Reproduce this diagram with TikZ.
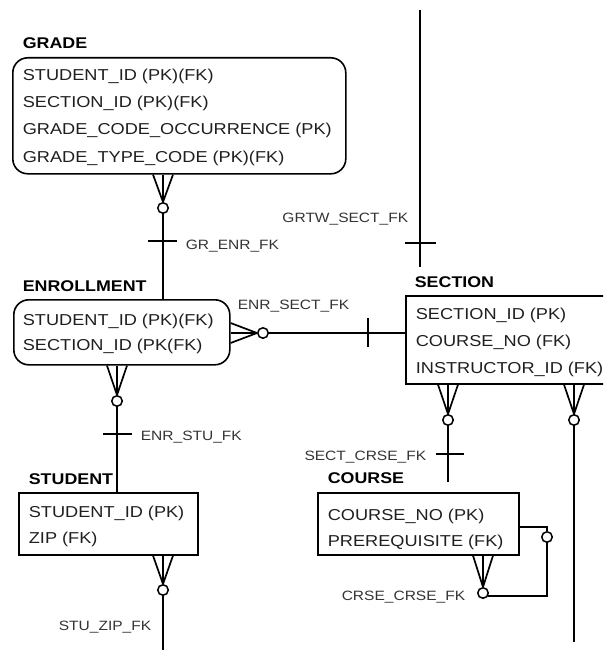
\documentclass[tikz,border=0pt]{standalone}
\usepackage{fontspec}
\setmainfont{Liberation Sans}[FakeStretch=1.15]
\usetikzlibrary{calc}
\begin{document}
\begin{tikzpicture}[x=1pt, y=-1pt, line width=1.7pt,
  entity/.style={draw, line width=1.6pt, anchor=north west, inner sep=0pt},
  roundent/.style={entity, rounded corners=15pt},
  title/.style={anchor=base west, inner sep=0pt, font=\fontsize{15.5}{18}\selectfont\bfseries},
  field/.style={anchor=base west, inner sep=0pt, font=\fontsize{15.8}{19}\selectfont, text=black!88},
  rel/.style={anchor=base west, inner sep=0pt, font=\fontsize{13.5}{16}\selectfont, text=black!80},
  relr/.style={rel, anchor=base east},
  opt/.style={circle, draw, fill=white, inner sep=0pt, minimum size=10.5pt, line width=1.5pt},
  bar/.style={line width=1.7pt}]
\clip (0,0) rectangle (603,650);

% ---------- entities ----------
\node[title] (tgrade) at (22,49) {GRADE};
\node[roundent, minimum width=333pt, minimum height=116pt] (grade) at (12,57) {};
\node[field] (g1) at (22,81)  {STUDENT\_ID (PK)(FK)};
\node[field] (g2) at (22,108) {SECTION\_ID (PK)(FK)};
\node[field] (g3) at (22,135) {GRADE\_CODE\_OCCURRENCE (PK)};
\node[field] (g4) at (22,162) {GRADE\_TYPE\_CODE (PK)(FK)};

\node[title] (tenrl) at (22,291) {ENROLLMENT};
\node[roundent, minimum width=216pt, minimum height=65pt] (enrl) at (13,299) {};
\node[field] (e1) at (22,325) {STUDENT\_ID (PK)(FK)};
\node[field] (e2) at (22,350) {SECTION\_ID (PK(FK)};

\node[title] (tsect) at (414,287) {SECTION};
\node[entity, minimum width=215pt, minimum height=88pt] (sect) at (405,295) {};
\node[field] (s1) at (415,319.5) {SECTION\_ID (PK)};
\node[field] (s2) at (415,346.5) {COURSE\_NO (FK)};
\node[field] (s3) at (415,373)   {INSTRUCTOR\_ID (FK)};

\node[title] (tstud) at (28,484) {STUDENT};
\node[entity, minimum width=179pt, minimum height=62pt] (stud) at (18,492) {};
\node[field] (st1) at (28,517) {STUDENT\_ID (PK)};
\node[field] (st2) at (28,543) {ZIP (FK)};

\node[title] (tcrse) at (327,483.5) {COURSE};
\node[entity, minimum width=201pt, minimum height=62pt] (crse) at (317,492) {};
\node[field] (c1t) at (327,520) {COURSE\_NO (PK)};
\node[field] (c2t) at (327,546) {PREREQUISITE (FK)};

% ---------- optional-end circles ----------
\node[opt] (o1) at (163,208) {};
\node[opt] (o2) at (263,333) {};
\node[opt] (o3) at (117,401) {};
\node[opt] (o4) at (448,420) {};
\node[opt] (o5) at (574,420) {};
\node[opt] (o6) at (163,590) {};
\node[opt] (o7) at (483,593) {};
\node[opt] (o8) at (547,537) {};

% free ends
\coordinate (grtwtop) at (420,10);
\coordinate (grtwend) at (420,267);
\coordinate (crsegap) at (448,482);
\coordinate (sectend) at (574,642);
\coordinate (zipend)  at (163,652);

% ---------- crow's feet ----------
\foreach \d in {-10,0,10} {
  \draw ($(o1 |- grade.south)+(\d,0)$) -- (o1.north);
  \draw ($(o2 -| enrl.east)+(0,\d)$) -- (o2.west);
  \draw ($(o3 |- enrl.south)+(\d,0)$) -- (o3.north);
  \draw ($(o4 |- sect.south)+(\d,0)$) -- (o4.north);
  \draw ($(o5 |- sect.south)+(\d,0)$) -- (o5.north);
  \draw ($(o6 |- stud.south)+(\d,0)$) -- (o6.north);
  \draw ($(o7 |- crse.south)+(\d,0)$) -- (o7.north);
}

% ---------- relationship lines ----------
\draw (o1.south) -- (o1 |- enrl.north);
\draw (o2.east) -- (o2 -| sect.west);
\draw (o3.south) -- (o3 |- stud.north);
\draw (o4.south) -- (crsegap);
\draw (o5.south) -- (sectend);
\draw (o6.south) -- (zipend);
\draw (grtwtop) -- (grtwend);
\draw ($(crse.east)+(0,3)$) -| (o8.north);
\draw (o8.south) |- (o7.-30);

% ---------- mandatory bars ----------
\draw[bar] (148,241) -- (177,241);
\draw[bar] (368,318) -- (368,347);
\draw[bar] (405,243) -- (436,243);
\draw[bar] (103,434) -- (132,434);
\draw[bar] (436,454) -- (464,454);

% ---------- relationship names ----------
\node[rel]  (lgrenr)  at (185,249)   {GR\_ENR\_FK};
\node[rel]  (lenrsec) at (237,309.5) {ENR\_SECT\_FK};
\node[relr] (lgrtw)   at (409,222.5) {GRTW\_SECT\_FK};
\node[rel]  (lenrstu) at (140,440.5) {ENR\_STU\_FK};
\node[relr] (lseccrs) at (427,460)   {SECT\_CRSE\_FK};
\node[relr] (lstuzip) at (152,630)   {STU\_ZIP\_FK};
\node[relr] (lcrscrs) at (466,600)   {CRSE\_CRSE\_FK};
\end{tikzpicture}
\end{document}
